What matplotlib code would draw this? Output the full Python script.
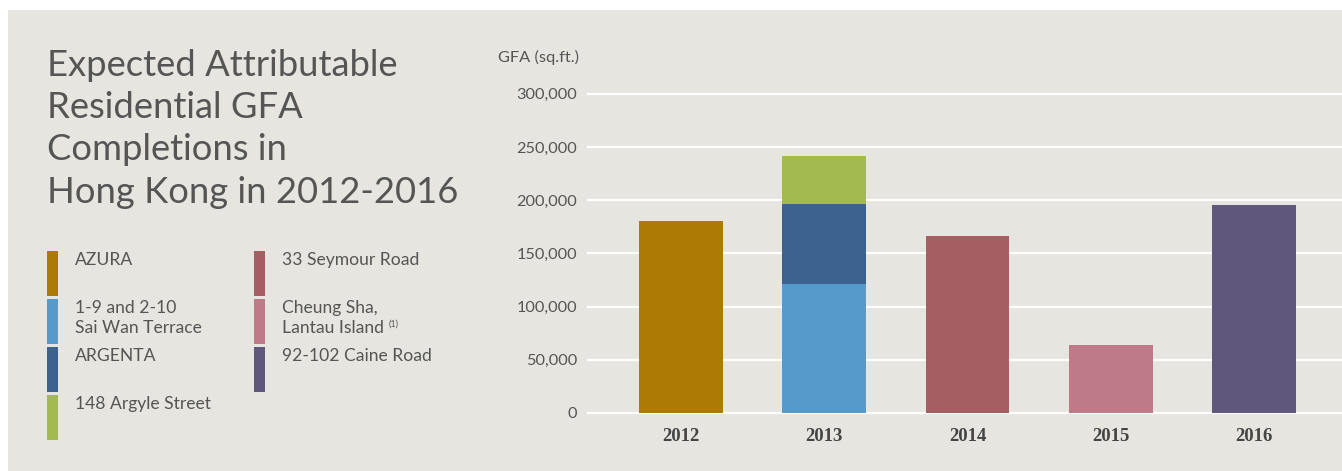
import matplotlib
matplotlib.use("Agg")
import matplotlib.pyplot as plt
from matplotlib.patches import Rectangle

# ---- data ----
years = ["2012", "2013", "2014", "2015", "2016"]
projects = ["AZURA", "1-9 and 2-10\nSai Wan Terrace", "ARGENTA", "148 Argyle Street",
            "33 Seymour Road", "Cheung Sha,\nLantau Island", "92-102 Caine Road"]
colors = ["#AD7A06", "#5699CB", "#3D628F", "#A3BA4F", "#A55F63", "#BF7A88", "#5F577C"]
# values per project for each year (sq.ft.)
azura    = [180000, 0, 0, 0, 0]
saiwan   = [0, 121000, 0, 0, 0]
argenta  = [0, 75000, 0, 0, 0]
argyle   = [0, 45000, 0, 0, 0]
seymour  = [0, 0, 166000, 0, 0]
cheung   = [0, 0, 0, 64000, 0]
caine    = [0, 0, 0, 0, 195000]
series = [azura, saiwan, argenta, argyle, seymour, cheung, caine]
yticks = [0, 50000, 100000, 150000, 200000, 250000, 300000]
ytick_labels = ["0", "50,000", "100,000", "150,000", "200,000", "250,000", "300,000"]

W, H = 1342, 471
fig = plt.figure(figsize=(W / 100, H / 100), dpi=100, facecolor="white")
BG = "#E6E5DF"
TXT = "#555555"
SANS = ["Lato", "DejaVu Sans"]

def fx(px):
    return px / W

def fy(py):
    return 1 - py / H

# panel background
fig.patches.append(Rectangle((fx(8), 0), 1 - fx(8), fy(10), transform=fig.transFigure,
                             facecolor=BG, edgecolor="none", zorder=-10))

# ---- axes ----
ax_left, ax_bottom = fx(588), fy(413)
ax_top = fy(93.7)
ax = fig.add_axes([ax_left, ax_bottom, 1 - ax_left, ax_top - ax_bottom])
ax.set_zorder(5)
ax.patch.set_visible(False)
x = list(range(len(years)))
bottoms = [0] * len(years)
for vals, col in zip(series, colors):
    ax.bar(x, vals, width=0.586, bottom=bottoms, color=col, zorder=3, linewidth=0)
    bottoms = [b + v for b, v in zip(bottoms, vals)]

for t in yticks:
    ax.axhline(t, color="white", lw=1.6, zorder=1, clip_on=False)
ax.set_ylim(0, 300000)
ax.set_xlim(-0.649, 4.614)
for s in ax.spines.values():
    s.set_visible(False)
ax.set_yticks(yticks)
ax.set_yticklabels(ytick_labels, family=SANS, fontsize=11.7, color=TXT)
ax.tick_params(axis="y", length=0, pad=8)
ax.set_xticks(x)
ax.set_xticklabels(years, family=["Liberation Serif"], fontweight="bold", fontsize=13.5, color="#444444")
ax.tick_params(axis="x", length=0, pad=11)

fig.text(fx(498), fy(57), "GFA (sq.ft.)", family=SANS, fontsize=11.8, color=TXT,
         ha="left", va="center")

# ---- title ----
title_lines = ["Expected Attributable", "Residential GFA", "Completions in", "Hong Kong in 2012-2016"]
for i, line in enumerate(title_lines):
    fig.text(fx(47), fy(65 + i * 42.5), line, family=SANS, fontsize=26.2, color=TXT,
             ha="left", va="center")

# ---- legend ----
sw_tops = [251, 299, 347, 395]
cols_x = [(47, 75), (254, 282)]
for i, (name, col) in enumerate(zip(projects, colors)):
    c = 0 if i < 4 else 1
    r = i if i < 4 else i - 4
    sx, tx = cols_x[c]
    top = sw_tops[r]
    fig.patches.append(Rectangle((fx(sx), fy(top + 45)), fx(11), 45 / H,
                                 transform=fig.transFigure, facecolor=col,
                                 edgecolor="none", zorder=2))
    fig.text(fx(tx), fy(top + 1), name, family=SANS, fontsize=12.6, color=TXT,
             ha="left", va="top", linespacing=1.32)
    if name.startswith("Cheung"):
        fig.text(fx(389), fy(top + 21), "(1)", family=SANS, fontsize=6.5,
                 color=TXT, ha="left", va="top")

fig.savefig("out.png", dpi=100, facecolor="white")
